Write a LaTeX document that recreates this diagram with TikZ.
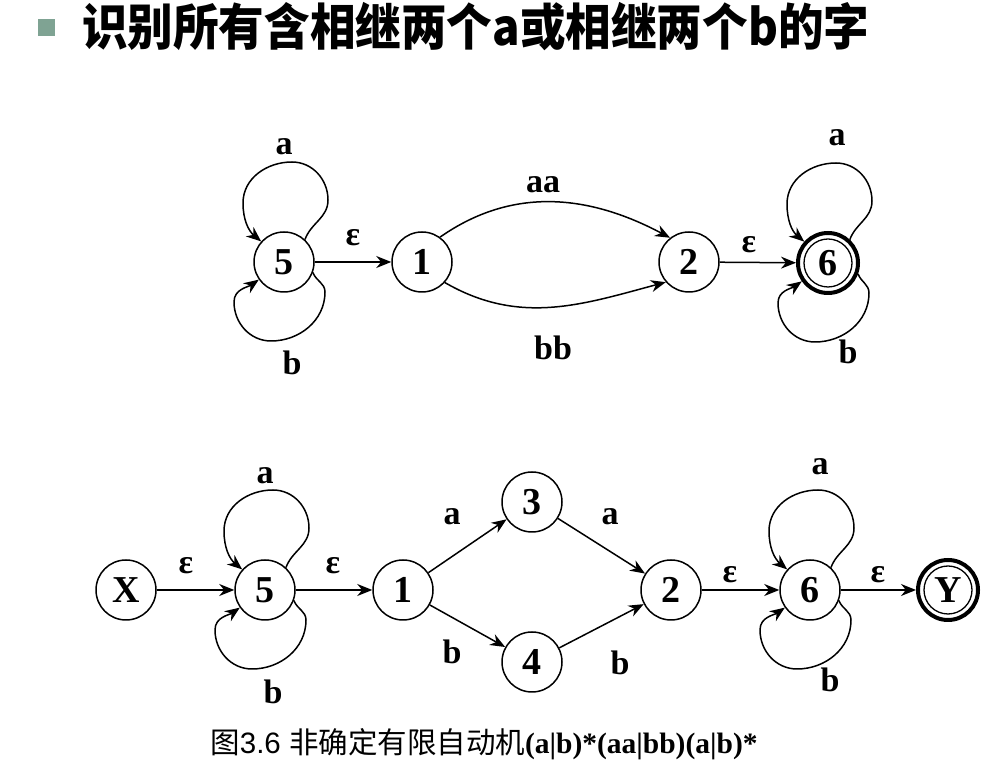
\documentclass[tikz,border=0pt]{standalone}
\usepackage{fontspec}
\usepackage{graphicx}
\setmainfont{Liberation Serif}
\newfontfamily\cjk{Noto Sans CJK SC}
\newfontfamily\arialf{Liberation Sans}
\usetikzlibrary{arrows.meta,calc}
\definecolor{bulletc}{HTML}{7FA393}
\tikzset{
  stnode/.style={circle, draw, line width=1.5pt, minimum size=60pt, inner sep=0pt,
    font=\bfseries\fontsize{38}{40}\selectfont},
  finalnode/.style={stnode, line width=4pt,
    path picture={\draw[line width=1.3pt] (path picture bounding box.center) circle[radius=24pt];}},
  conn/.style={line width=1.5pt, -{Stealth[length=15pt,width=12pt]}},
  lbl/.style={font=\bfseries\fontsize{34}{36}\selectfont, inner sep=0pt},
}
\newcommand\LoopAbove[1]{%
  \draw[conn] (#1.47) to[out=70,in=-90] ($(#1)+(44,62)$) to[out=90,in=0] ($(#1)+(8,100)$)
    to[out=180,in=90] ($(#1)+(-41,59)$) to[out=-90,in=140] (#1.138);}
\newcommand\LoopBelow[1]{%
  \draw[conn] (#1.-20) to[out=-70,in=90] ($(#1)+(41,-30)$) to[out=-90,in=0] ($(#1)+(-13,-79)$)
    to[out=180,in=-90] ($(#1)+(-50,-40)$) to[out=90,in=215] (#1.215);}
\begin{document}
\begin{tikzpicture}[x=1pt,y=1pt]
\useasboundingbox (0,0) rectangle (996,760);
% title
\node[fill=bulletc, minimum size=17pt, inner sep=0pt] (bullet) at (46.5,732) {};
\node[anchor=west, inner sep=0pt] (title) at (82,733)
  {\scalebox{0.97}[1.06]{\cjk\bfseries\fontsize{47}{50}\selectfont 识别所有含相继两个a或相继两个b的字}};
% top automaton
\node[stnode] (t5) at (284,498) {5};
\node[stnode] (t1) at (422,498) {1};
\node[stnode] (t2) at (689,498) {2};
\node[finalnode] (t6) at (828,497) {6};
\draw[conn] (t5) -- (t1);
\draw[conn] (t1.54) to[out=35,in=152] (t2.128);
\draw[conn] (t1.-42) to[out=-30,in=195] (t2.221);
\draw[conn] (t2) -- (t6);
\LoopAbove{t5}
\LoopBelow{t5}
\LoopAbove{t6}
\LoopBelow{t6}
\node[lbl] (la1) at (284,613) {a};
\node[lbl] (lb1) at (292,397) {b};
\node[lbl] (le1) at (353,522) {ε};
\node[lbl] (laa) at (543,575) {aa};
\node[lbl] (lbb) at (553,412) {bb};
\node[lbl] (le2) at (749,515) {ε};
\node[lbl] (la2) at (837,622) {a};
\node[lbl] (lb2) at (848,408) {b};
% bottom automaton
\node[stnode] (bX) at (126,170) {X};
\node[stnode] (b5) at (265,170) {5};
\node[stnode] (b1) at (403,170) {1};
\node[stnode] (b3) at (532,258) {3};
\node[stnode] (b4) at (532,98) {4};
\node[stnode] (b2) at (671,170) {2};
\node[stnode] (b6) at (810,170) {6};
\node[finalnode] (bY) at (948,170) {Y};
\draw[conn] (bX) -- (b5);
\draw[conn] (b5) -- (b1);
\draw[conn] (b1) -- (b3);
\draw[conn] (b1) -- (b4);
\draw[conn] (b3) -- (b2);
\draw[conn] (b4) -- (b2);
\draw[conn] (b2) -- (b6);
\draw[conn] (b6) -- (bY);
\LoopAbove{b5}
\LoopBelow{b5}
\LoopAbove{b6}
\LoopBelow{b6}
\node[lbl] (la3) at (265,284) {a};
\node[lbl] (lb3) at (273,68) {b};
\node[lbl] (le3) at (186,194) {ε};
\node[lbl] (le4) at (333,194) {ε};
\node[lbl] (la4) at (452,243) {a};
\node[lbl] (la5) at (610,243) {a};
\node[lbl] (lb4) at (452,108) {b};
\node[lbl] (lb5) at (620,97) {b};
\node[lbl] (le5) at (730,185) {ε};
\node[lbl] (le6) at (878,185) {ε};
\node[lbl] (la6) at (820,293) {a};
\node[lbl] (lb6) at (830,80) {b};
% caption
\node[inner sep=0pt] (cap) at (484,16)
  {\fontsize{29.5}{31}\selectfont\cjk 图\arialf 3.6 \cjk 非确定有限自动机\rmfamily\bfseries (a|b)*(aa|bb)(a|b)*};
\end{tikzpicture}
\end{document}
